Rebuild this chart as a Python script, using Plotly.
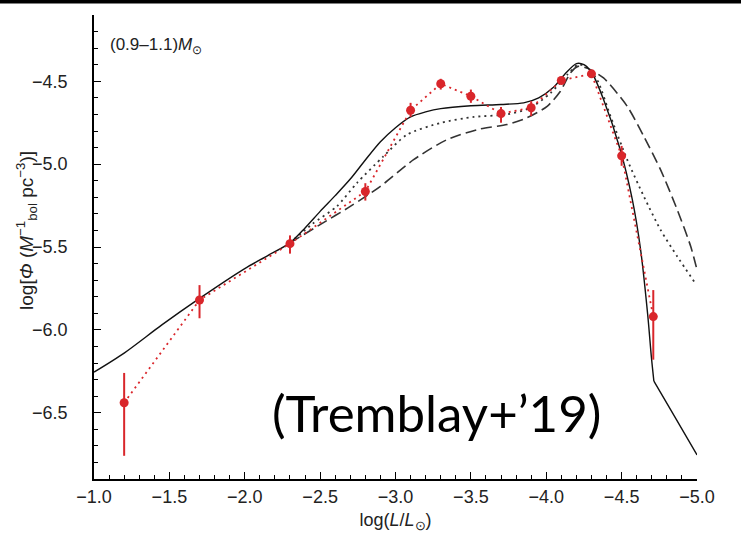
import plotly.graph_objects as go

# ---- observed luminosity function (red points) ----
lum_bins = [-1.2, -1.7, -2.3, -2.8, -3.1, -3.3, -3.5, -3.7, -3.9, -4.1, -4.3, -4.5, -4.71]
log_phi = [-6.44, -5.82, -5.48, -5.165, -4.675, -4.515, -4.59, -4.695, -4.66, -4.495, -4.455, -4.95, -5.92]
err_up = [0.18, 0.09, 0.05, 0.05, 0.045, 0.03, 0.04, 0.04, 0.04, 0.02, 0.02, 0.06, 0.16]
err_down = [0.32, 0.11, 0.06, 0.055, 0.04, 0.035, 0.04, 0.055, 0.05, 0.02, 0.02, 0.06, 0.26]

# ---- model curves ----
solid_x = [-1.0, -1.2, -1.45, -1.7, -2.0, -2.15, -2.3, -2.4, -2.5, -2.6, -2.7, -2.8, -2.9, -3.0, -3.1,
           -3.2, -3.3, -3.5, -3.7, -3.85, -3.95, -4.05, -4.12, -4.2, -4.25, -4.305, -4.38,
           -4.49, -4.57, -4.626, -4.674, -4.697, -4.714]
solid_y = [-6.255, -6.14, -5.97, -5.81, -5.63, -5.553, -5.475, -5.385, -5.285, -5.19, -5.09, -4.975, -4.865, -4.78, -4.715,
           -4.685, -4.665, -4.648, -4.64, -4.63, -4.60, -4.535, -4.46, -4.393, -4.40, -4.453, -4.61,
           -4.91, -5.21, -5.517, -5.919, -6.16, -6.31]
tail_x = [-4.714, -4.85, -5.0]
tail_y = [-6.31, -6.52, -6.755]

dotted_x = [-2.3, -2.45, -2.61, -2.744, -2.92, -3.076, -3.30, -3.52, -3.74, -3.895, -4.03, -4.14,
            -4.21, -4.26, -4.337, -4.426, -4.537, -4.647, -4.758, -4.869, -4.99]
dotted_y = [-5.475, -5.36, -5.255, -5.114, -4.953, -4.822, -4.751, -4.715, -4.70, -4.66, -4.57, -4.46,
            -4.40, -4.41, -4.49, -4.71, -4.973, -5.194, -5.396, -5.557, -5.72]

dashed_x = [-2.3, -2.5, -2.70, -2.90, -3.12, -3.342, -3.563, -3.74, -3.873, -4.006, -4.094, -4.16,
            -4.21, -4.27, -4.38, -4.537, -4.647, -4.758, -4.869, -4.958, -5.0]
dashed_y = [-5.475, -5.365, -5.255, -5.134, -4.973, -4.852, -4.787, -4.761, -4.72, -4.651, -4.56, -4.45,
            -4.41, -4.42, -4.48, -4.651, -4.832, -5.033, -5.275, -5.496, -5.637]

# ---- ticks ----
x_tickvals = [-1.0, -1.5, -2.0, -2.5, -3.0, -3.5, -4.0, -4.5, -5.0]
x_ticktext = ["\u22121.0", "\u22121.5", "\u22122.0", "\u22122.5", "\u22123.0", "\u22123.5", "\u22124.0", "\u22124.5", "\u22125.0"]
y_tickvals = [-4.5, -5.0, -5.5, -6.0, -6.5]
y_ticktext = ["\u22124.5", "\u22125.0", "\u22125.5", "\u22126.0", "\u22126.5"]

RED = "#d9262b"
FONT = "Liberation Sans"

fig = go.Figure()

fig.add_trace(go.Scatter(x=dashed_x, y=dashed_y, mode="lines",
                         line=dict(color="#333333", width=1.6, dash="11px,5px", shape="spline", smoothing=0.7),
                         showlegend=False, hoverinfo="skip"))
fig.add_trace(go.Scatter(x=dotted_x, y=dotted_y, mode="lines",
                         line=dict(color="#333333", width=1.8, dash="2px,4px", shape="spline", smoothing=0.7),
                         showlegend=False, hoverinfo="skip"))
fig.add_trace(go.Scatter(x=solid_x, y=solid_y, mode="lines",
                         line=dict(color="#111111", width=1.4, shape="spline", smoothing=0.8),
                         showlegend=False, hoverinfo="skip"))
fig.add_trace(go.Scatter(x=tail_x, y=tail_y, mode="lines",
                         line=dict(color="#111111", width=1.4, shape="spline", smoothing=0.4),
                         showlegend=False, hoverinfo="skip"))
fig.add_trace(go.Scatter(x=lum_bins, y=log_phi, mode="lines+markers",
                         line=dict(color=RED, width=1.8, dash="2px,4px"),
                         marker=dict(color=RED, size=9),
                         error_y=dict(type="data", symmetric=False, array=err_up, arrayminus=err_down,
                                      color=RED, thickness=2, width=0),
                         showlegend=False))

fig.add_annotation(text="(0.9\u20131.1)<i>M</i><sub>\u2299</sub>", xref="paper", yref="paper",
                   x=(108 - 94) / 602.5, y=(479 - 46) / 464, xanchor="left", yanchor="middle",
                   showarrow=False, font=dict(family=FONT, size=17, color="#222222"))
fig.add_annotation(text="(Tremblay+\u201919)", xref="paper", yref="paper",
                   x=(436 - 94) / 602.5, y=(479 - 412) / 464, xanchor="center", yanchor="middle",
                   showarrow=False, font=dict(family="Lato", size=51, color="black"))
fig.add_annotation(text="log[<i>\u03a6</i> (<i>M</i><sup>\u22121</sup><sub>bol</sub> pc<sup>\u22123</sup>)]",
                   xref="paper", yref="paper", x=-(94 - 26) / 602.5, y=(479 - 230) / 464,
                   xanchor="center", yanchor="middle", textangle=-90, showarrow=False,
                   font=dict(family=FONT, size=19, color="#222222"))

fig.add_shape(type="rect", xref="paper", yref="paper", x0=-0.2, x1=1.2,
              y0=1 + (15 - 3.5) / 464, y1=1.06, fillcolor="black", line=dict(width=0))

axis_common = dict(showline=True, linecolor="black", linewidth=1.8, mirror=False,
                   ticks="inside", ticklen=7, tickwidth=1.3, tickcolor="black",
                   showgrid=False, zeroline=False,
                   tickfont=dict(family=FONT, size=18, color="#222222"),
                   minor=dict(ticks="inside", ticklen=4, tickwidth=1.1, tickcolor="black",
                              tickmode="linear", tick0=0, dtick=0.1, showgrid=False))

fig.update_xaxes(range=[-1.0, -5.0], tickmode="array", tickvals=x_tickvals, ticktext=x_ticktext,
                 title=dict(text="log(<i>L</i>/<i>L</i><sub>\u2299</sub>)", font=dict(family=FONT, size=18, color="#222222"),
                            standoff=8),
                 **axis_common)
fig.update_yaxes(range=[-6.9, -4.1], tickmode="array", tickvals=y_tickvals, ticktext=y_ticktext,
                 ticklabelstandoff=21, **axis_common)

fig.update_layout(width=741, height=539, margin=dict(l=94, r=44, t=15, b=60),
                  paper_bgcolor="white", plot_bgcolor="white")

fig.write_html("out.html")
